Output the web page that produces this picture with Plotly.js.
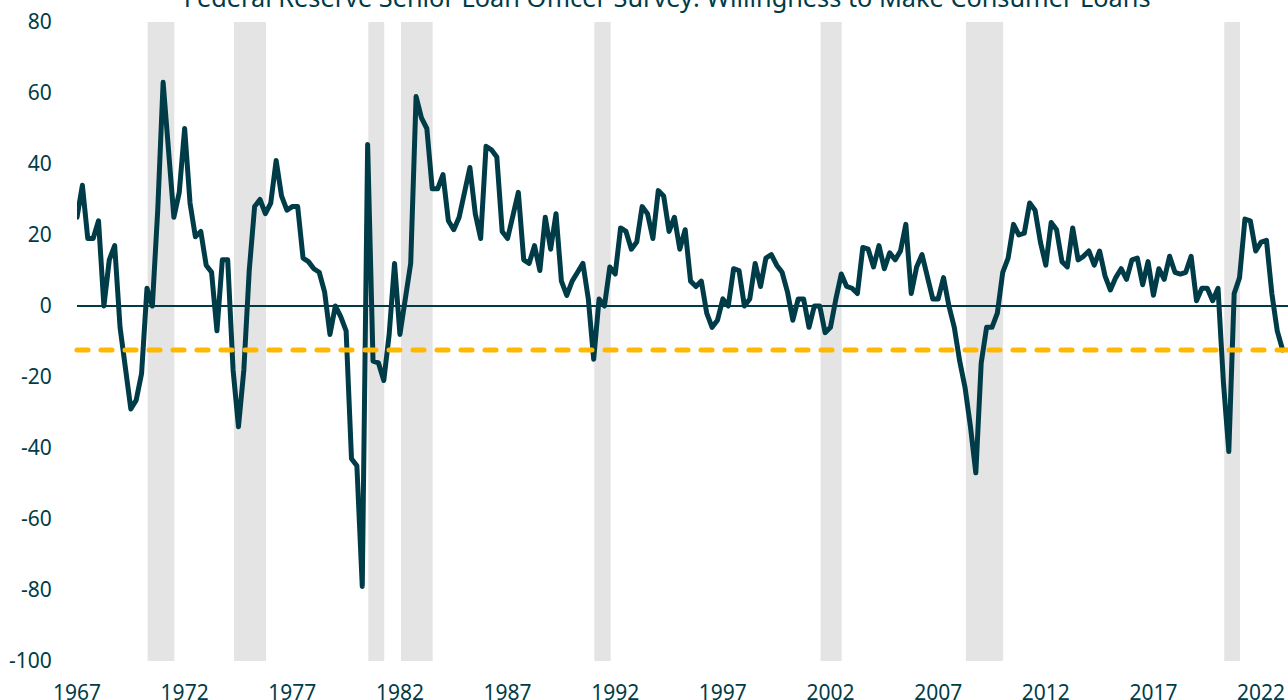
<!DOCTYPE html>
<html>
<head>
<meta charset="utf-8">
<script src="https://cdn.plot.ly/plotly-3.0.1.min.js"></script>
<style>
  html, body { margin: 0; padding: 0; background: #ffffff; }
  #chart { width: 1288px; height: 700px; }
  .scatterlayer .js-line { stroke-linejoin: round; stroke-linecap: round; }
  .shapelayer path { stroke-linecap: round; }
</style>
</head>
<body>
<div id="chart"></div>
<script>
// ---------- data ----------
const chartTitle = "Federal Reserve Senior Loan Officer Survey: Willingness to Make Consumer Loans";

// survey quarter (decimal year) of each point that was read
const quarters = [
  1967.00, 1967.25, 1967.50, 1967.75, 1968.00, 1968.25, 1968.50, 1968.75,
  1969.00, 1969.25, 1969.50, 1969.75, 1970.00, 1970.25, 1970.50, 1970.75,
  1971.00, 1971.50, 1971.75, 1972.00, 1972.25, 1972.50, 1972.75,
  1973.00, 1973.25, 1973.50, 1973.75, 1974.00, 1974.25, 1974.50, 1974.75,
  1975.00, 1975.25, 1975.50, 1975.75, 1976.00, 1976.25, 1976.50, 1976.75,
  1977.00, 1977.25, 1977.50, 1977.75, 1978.00, 1978.25, 1978.50, 1978.75,
  1979.00, 1979.25, 1979.50, 1979.75, 1980.00, 1980.25, 1980.50, 1980.75,
  1981.00, 1981.25, 1981.50, 1981.75, 1982.00, 1982.25, 1982.50, 1982.75,
  1983.00, 1983.25, 1983.50, 1983.75, 1984.00, 1984.25, 1984.50, 1984.75,
  1985.25, 1985.50, 1985.75, 1986.00, 1986.25, 1986.50, 1986.75,
  1987.00, 1987.50, 1987.75, 1988.00, 1988.25, 1988.50, 1988.75,
  1989.00, 1989.25, 1989.50, 1989.75, 1990.00, 1990.25, 1990.50, 1990.75,
  1991.00, 1991.25, 1991.50, 1991.75, 1992.00, 1992.25, 1992.50, 1992.75,
  1993.00, 1993.25, 1993.50, 1993.75, 1994.00, 1994.25, 1994.50, 1994.75,
  1995.00, 1995.25, 1995.50, 1995.75, 1996.00, 1996.25, 1996.50, 1996.75,
  1997.00, 1997.25, 1997.50, 1997.75, 1998.00, 1998.25, 1998.50, 1998.75,
  1999.00, 1999.25, 1999.50, 1999.75, 2000.00, 2000.25, 2000.50, 2000.75,
  2001.00, 2001.25, 2001.50, 2001.75, 2002.00, 2002.25, 2002.50, 2002.75,
  2003.00, 2003.25, 2003.50, 2003.75, 2004.00, 2004.25, 2004.50, 2004.75,
  2005.00, 2005.25, 2005.50, 2005.75, 2006.00, 2006.25, 2006.50, 2006.75,
  2007.00, 2007.25, 2007.50, 2007.75, 2008.00, 2008.25, 2008.50, 2008.75,
  2009.00, 2009.25, 2009.50, 2009.75, 2010.00, 2010.25, 2010.50, 2010.75,
  2011.00, 2011.25, 2011.50, 2011.75, 2012.00, 2012.25, 2012.50, 2012.75,
  2013.00, 2013.25, 2013.50, 2013.75, 2014.00, 2014.25, 2014.50, 2014.75,
  2015.00, 2015.25, 2015.50, 2015.75, 2016.00, 2016.25, 2016.50, 2016.75,
  2017.00, 2017.25, 2017.50, 2017.75, 2018.00, 2018.25, 2018.50, 2018.75,
  2019.00, 2019.25, 2019.50, 2019.75, 2020.00, 2020.25, 2020.50, 2020.75,
  2021.00, 2021.25, 2021.50, 2021.75, 2022.00, 2022.25, 2022.50, 2022.75,
  2023.00
];

// net percentage of banks reporting increased willingness to make consumer loans
const willingness = [
  25, 34, 19, 19, 24, 0, 13, 17,
  -6, -19, -29, -26.5, -19, 5, 0, 27,
  63, 25, 32, 50, 29, 19.5, 21,
  11.5, 9.5, -7, 13, 13, -18, -34, -18,
  10, 28, 30, 26, 29, 41, 31, 27,
  28, 28, 13.5, 12.5, 10.5, 9.5, 4, -8,
  0, -3, -7, -43, -45, -79, 45.5, -15.5,
  -16, -21, -8, 12, -8, 3, 12, 59,
  53, 50, 33, 33, 37, 24, 21.5, 25,
  39, 26, 19, 45, 44, 42, 21,
  19, 32, 13, 12, 17, 10, 25,
  16, 26, 7, 3, 7, 9.5, 12, 2,
  -15, 2, 0, 11, 9, 22, 21, 16,
  18, 28, 26, 19, 32.5, 31, 21, 25,
  16, 21.5, 7, 5.5, 7, -2, -6, -4,
  2, 0, 10.5, 10, 0, 2, 12, 5.5,
  13.5, 14.5, 11.5, 9.5, 4, -4, 2, 2,
  -6, 0, 0, -7.5, -6, 2, 9, 5.5,
  5, 3.5, 16.5, 16, 11, 17, 10.5, 15,
  13, 15.5, 23, 3.5, 11, 14.5, 8, 2,
  2, 8, 0, -6, -15.5, -23, -34, -47,
  -16, -6, -6, -2, 9.5, 13.5, 23, 20,
  20.5, 29, 27, 18, 11.5, 23.5, 21.5, 12.5,
  11, 22, 13, 14, 15.5, 11.5, 15.5, 8.5,
  4.5, 8, 10.5, 7.5, 13, 13.5, 6, 12.5,
  3, 10.5, 7.5, 14, 9.5, 9, 9.5, 14,
  1.5, 5, 5, 1.5, 5, -21.5, -41, 3.5,
  8, 24.5, 24, 15.5, 18, 18.5, 3.5, -7,
  -12.4
];

// latest reading, drawn as the dashed reference level
const latestLevel = -12.4;

// shaded recession periods (decimal years, as placed in the reference)
const recessionStart = [1970.28, 1974.29, 1980.53, 1982.05, 1991.03, 2001.54, 2008.29, 2020.29];
const recessionEnd   = [1971.52, 1975.78, 1981.27, 1983.52, 1991.79, 2002.52, 2010.02, 2021.02];

// axis ticks
const xTickVals = [1967, 1972, 1977, 1982, 1987, 1992, 1997, 2002, 2007, 2012, 2017, 2022];
const xTickText = ["1967", "1972", "1977", "1982", "1987", "1992", "1997", "2002", "2007", "2012", "2017", "2022"];
const yTickVals = [-100, -80, -60, -40, -20, 0, 20, 40, 60, 80];
const yTickText = ["-100", "-80", "-60", "-40", "-20", "0", "20", "40", "60", "80"];

// ---------- styling ----------
const dark = "#003C48";
const gold = "#FFB700";
const band = "#E4E4E4";
const fontFamily = "'Noto Sans', 'Open Sans', sans-serif";

const shapes = recessionStart.map((s, i) => ({
  type: "rect", xref: "x", yref: "paper",
  x0: s, x1: recessionEnd[i], y0: 0, y1: 1,
  fillcolor: band, line: { width: 0 }, layer: "below"
}));
shapes.push({
  type: "line", xref: "paper", yref: "y",
  x0: 0, x1: 1, y0: latestLevel, y1: latestLevel,
  line: { color: gold, width: 5, dash: "11px,13px" }, layer: "above"
});

const traces = [{
  type: "scatter", mode: "lines",
  x: quarters, y: willingness,
  line: { color: dark, width: 5 },
  hoverinfo: "x+y"
}];

const layout = {
  width: 1288, height: 700,
  margin: { l: 77, r: 0, t: 22, b: 39, pad: 0 },
  paper_bgcolor: "#ffffff", plot_bgcolor: "#ffffff",
  showlegend: false,
  title: {
    text: chartTitle,
    font: { family: fontFamily, size: 25.3, color: dark },
    xref: "container", yref: "container",
    x: 0.518, xanchor: "center",
    y: 1 - 6.5 / 700, yanchor: "bottom"
  },
  xaxis: {
    type: "linear", range: [1967, 2023.25],
    tickmode: "array", tickvals: xTickVals, ticktext: xTickText,
    showgrid: false, zeroline: false, showline: false,
    ticks: "outside", ticklen: 13, tickcolor: "rgba(0,0,0,0)",
    tickfont: { family: fontFamily, size: 21, color: dark }
  },
  yaxis: {
    range: [-100, 80],
    tickmode: "array", tickvals: yTickVals, ticktext: yTickText,
    showgrid: false, showline: false,
    zeroline: true, zerolinecolor: dark, zerolinewidth: 1.5,
    ticks: "outside", ticklen: 20, tickcolor: "rgba(0,0,0,0)",
    tickfont: { family: fontFamily, size: 21, color: dark }
  },
  shapes: shapes
};

Plotly.newPlot("chart", traces, layout, { displayModeBar: false, staticPlot: true });
</script>
</body>
</html>
